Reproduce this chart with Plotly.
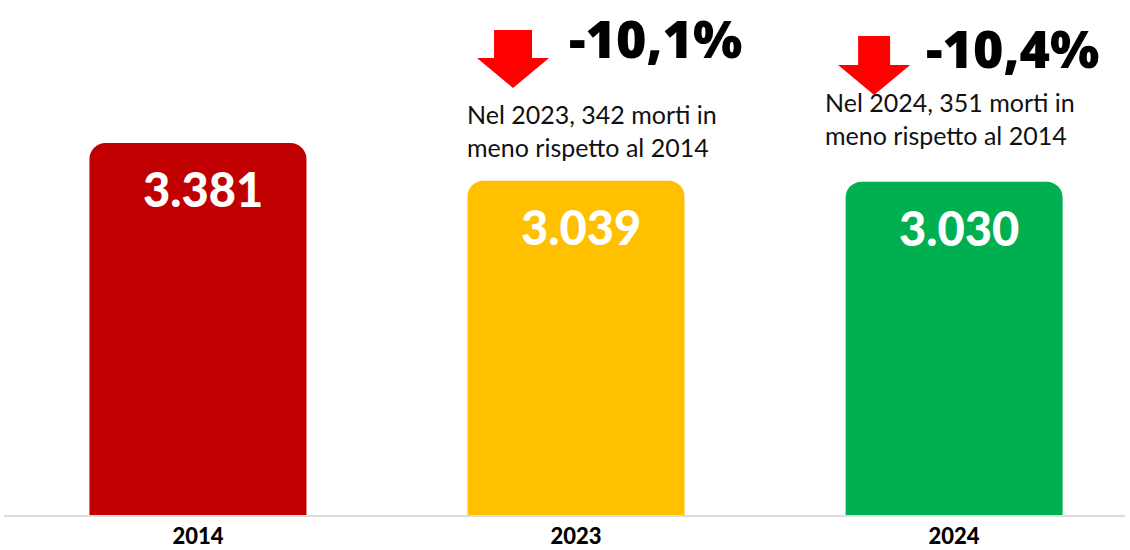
import plotly.graph_objects as go

# data
years = ["2014", "2023", "2024"]
deaths = [3381, 3039, 3030]
value_labels = ["3.381", "3.039", "3.030"]
pct_labels = ["", "-10,1%", "-10,4%"]
notes = ["",
         "Nel 2023, 342 morti in<br>meno rispetto al 2014",
         "Nel 2024, 351 morti in<br>meno rispetto al 2014"]
bar_colors = ["#C00000", "#FFC000", "#00B050"]

# layout offsets (pixels) for the call-outs above the 2023 / 2024 bars
pct_pos = {1: (79, 37), 2: (58, 47)}          # (dx from bar centre, y from top)
note_pos = {1: (-111, 130), 2: (-131, 118)}   # (dx of left edge, centre y)
arrow_pos = {1: (-63, 30, 58, 88, 19), 2: (-80, 36, 65, 95, 16)}  # dx, top, head, tip, shaft half


def arrow_path(dx, top, head, tip, shaft, headw=36):
    pts = [(dx - shaft, -top), (dx + shaft, -top), (dx + shaft, -head),
           (dx + headw, -head), (dx, -tip), (dx - headw, -head), (dx - shaft, -head)]
    return "M " + " L ".join("%g,%g" % p for p in pts) + " Z"


fig = go.Figure()
fig.add_trace(go.Bar(
    x=years, y=deaths,
    marker=dict(color=bar_colors, line=dict(width=0)),
    width=0.574,
    hoverinfo="skip",
))

annotations = []
shapes = []
for i, yr in enumerate(years):
    # category axis: position i is the i-th year
    annotations.append(dict(
        x=i, y=deaths[i], xref="x", yref="y", text=value_labels[i],
        showarrow=False, xshift=5, yshift=-46,
        font=dict(family="Lato", size=47, color="white", weight=900),
    ))
    if pct_labels[i]:
        dx, cy = pct_pos[i]
        annotations.append(dict(
            x=i, y=1, xref="x", yref="paper", text=pct_labels[i],
            showarrow=False, xshift=dx, yshift=-cy, yanchor="middle",
            font=dict(family="Open Sans", size=52, color="black", weight=800),
        ))
        nx, ny = note_pos[i]
        annotations.append(dict(
            x=i, y=1, xref="x", yref="paper", text=notes[i],
            showarrow=False, xshift=nx, yshift=-ny, xanchor="left",
            yanchor="middle", align="left",
            font=dict(family="Lato", size=25, color="#111111"),
        ))
        ax, top, head, tip, shaft = arrow_pos[i]
        shapes.append(dict(
            type="path", xref="x", yref="paper",
            xsizemode="pixel", ysizemode="pixel", xanchor=i, yanchor=1,
            path=arrow_path(ax, top, head, tip, shaft),
            fillcolor="#FF0000", line=dict(width=0), layer="above",
        ))

fig.update_layout(
    width=1130, height=550,
    margin=dict(l=4, r=5, t=0, b=35),
    paper_bgcolor="white", plot_bgcolor="white",
    barcornerradius=16,
    showlegend=False,
    annotations=annotations,
    shapes=shapes,
    xaxis=dict(
        type="category", automargin=False,
        range=[-0.513, 2.452], showgrid=False, zeroline=False,
        showline=True, linecolor="#DDDDDD", linewidth=2,
        ticks="outside", ticklen=1, tickcolor="rgba(0,0,0,0)",
        tickfont=dict(family="Lato", size=22, color="black", weight=900),
    ),
    yaxis=dict(range=[0, 4681], visible=False, fixedrange=True, automargin=False),
)

# drop the browser's default page margin
post = "document.body.style.margin = '0'; window.dispatchEvent(new Event('resize'));"
fig.write_html("out.html", post_script=post, config={"displayModeBar": False})
